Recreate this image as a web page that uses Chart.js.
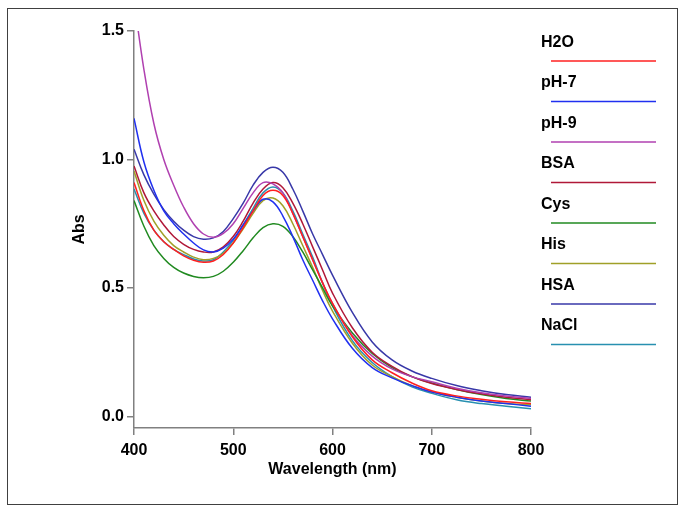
<!DOCTYPE html>
<html><head><meta charset="utf-8">
<script src="https://cdn.jsdelivr.net/npm/chart.js@4.4.0/dist/chart.umd.min.js"></script>
<style>
html,body{margin:0;padding:0;background:#fff;}
#wrap{position:relative;width:685px;height:512px;}
#frame{position:absolute;left:7px;top:8px;width:669px;height:495px;border:1.5px solid #404040;box-sizing:content-box;pointer-events:none;}
canvas{position:absolute;left:0;top:0;}
</style></head>
<body>
<div id="wrap"><canvas id="c" width="685" height="512"></canvas><div id="frame"></div></div>
<script>
const wavelengths = [400,410,420,430,440,450,460,470,480,490,500,510,520,530,540,550,560,570,580,590,600,620,640,660,680,700,725,750,775,800];
const seriesNames = ['H2O','pH-7','pH-9','BSA','Cys','His','HSA','NaCl'];
const H2O  = [0.91,0.80,0.725,0.68,0.65,0.625,0.608,0.60,0.605,0.63,0.675,0.735,0.80,0.86,0.88,0.86,0.79,0.70,0.61,0.52,0.44,0.31,0.22,0.17,0.13,0.10,0.08,0.067,0.057,0.05];
const pH7  = [1.16,0.99,0.88,0.80,0.75,0.71,0.675,0.648,0.64,0.655,0.69,0.745,0.80,0.845,0.835,0.78,0.70,0.61,0.53,0.45,0.38,0.265,0.19,0.15,0.12,0.095,0.075,0.06,0.05,0.04];
const pH9  = [1.62,1.35,1.14,1.0,0.90,0.815,0.75,0.71,0.697,0.712,0.75,0.81,0.87,0.91,0.905,0.87,0.79,0.70,0.61,0.52,0.44,0.315,0.235,0.185,0.155,0.135,0.11,0.092,0.08,0.07];
const BSA  = [0.975,0.87,0.80,0.745,0.70,0.67,0.65,0.64,0.64,0.66,0.70,0.76,0.83,0.885,0.91,0.89,0.83,0.75,0.66,0.57,0.48,0.345,0.25,0.195,0.155,0.128,0.105,0.088,0.075,0.065];
const Cys  = [0.84,0.74,0.665,0.615,0.58,0.558,0.545,0.54,0.545,0.565,0.60,0.645,0.695,0.735,0.75,0.74,0.70,0.64,0.57,0.50,0.43,0.325,0.245,0.19,0.155,0.13,0.105,0.085,0.07,0.06];
const His  = [0.955,0.84,0.76,0.705,0.665,0.64,0.62,0.61,0.615,0.635,0.675,0.73,0.79,0.84,0.85,0.82,0.75,0.665,0.58,0.49,0.41,0.285,0.20,0.155,0.12,0.095,0.075,0.06,0.05,0.045];
const HSA  = [1.04,0.94,0.865,0.805,0.76,0.725,0.70,0.69,0.695,0.72,0.77,0.83,0.90,0.95,0.97,0.95,0.885,0.80,0.71,0.63,0.55,0.405,0.29,0.22,0.177,0.148,0.12,0.10,0.085,0.075];
const NaCl = [0.885,0.79,0.725,0.68,0.65,0.63,0.613,0.605,0.61,0.64,0.685,0.745,0.81,0.87,0.893,0.87,0.80,0.71,0.62,0.52,0.43,0.295,0.21,0.155,0.115,0.09,0.065,0.05,0.04,0.03];
const xTicks = [400,500,600,700,800];
const yTicks = [0.0,0.5,1.0,1.5];

const seriesValues = [H2O,pH7,pH9,BSA,Cys,His,HSA,NaCl];
const colors = ['#ff2020','#2030f0','#b040b0','#b01838','#208a20','#a0a028','#3838a8','#2890b0'];

const datasets = seriesNames.map((name,i)=>({
  label:name,
  data: wavelengths.map((w,j)=>({x:w,y:seriesValues[i][j]})),
  borderColor:colors[i],
  backgroundColor:colors[i],
  borderWidth:1.5,
  pointRadius:0,
  tension:0.4,
  fill:false
}));

const FONT = 'Liberation Sans, Arial, sans-serif';

const legendPlugin = {
  id:'customLegend',
  afterDraw(chart){
    const ctx = chart.ctx;
    ctx.save();
    ctx.font = 'bold 16px ' + FONT;
    ctx.textBaseline = 'alphabetic';
    ctx.textAlign = 'left';
    chart.data.datasets.forEach((ds,i)=>{
      const yT = 46.5 + i*40.5;
      ctx.fillStyle = '#000';
      ctx.fillText(ds.label, 541, yT);
      ctx.strokeStyle = ds.borderColor;
      ctx.lineWidth = 1.5;
      ctx.beginPath();
      ctx.moveTo(551, yT + 14.5);
      ctx.lineTo(656, yT + 14.5);
      ctx.stroke();
    });
    ctx.restore();
  }
};

new Chart(document.getElementById('c'), {
  type:'line',
  data:{datasets},
  options:{
    responsive:false,
    animation:false,
    events:[],
    layout:{padding:{left:0,top:31,right:154,bottom:0}},
    plugins:{legend:{display:false},tooltip:{enabled:false}},
    scales:{
      x:{
        type:'linear', min:400, max:800,
        afterFit(s){ s.height = 84; },
        afterBuildTicks(s){ s.ticks = xTicks.map(v=>({value:v})); },
        grid:{display:true, drawOnChartArea:false, drawTicks:true, tickLength:7, color:'#808080', lineWidth:1.5},
        border:{display:true, color:'#808080', width:1.5},
        ticks:{color:'#000', font:{family:FONT, size:16, weight:'bold'}, padding:6, maxRotation:0, callback:v=>String(v)},
        title:{display:true, text:'Wavelength (nm)', color:'#000', font:{family:FONT,size:16,weight:'bold'}, padding:{top:0,bottom:33}}
      },
      y:{
        type:'linear', min:-0.045, max:1.5,
        afterFit(s){ s.width = 134; },
        afterBuildTicks(s){ s.ticks = yTicks.map(v=>({value:v})); },
        grid:{display:true, drawOnChartArea:false, drawTicks:true, tickLength:7, color:'#808080', lineWidth:1.5},
        border:{display:true, color:'#808080', width:1.5},
        ticks:{color:'#000', font:{family:FONT, size:16, weight:'bold'}, padding:3, callback:v=>v.toFixed(1)},
        title:{display:true, text:'Abs', color:'#000', font:{family:FONT,size:16,weight:'bold'}, padding:{top:70,bottom:0}}
      }
    }
  },
  plugins:[legendPlugin]
});
</script>
</body></html>
